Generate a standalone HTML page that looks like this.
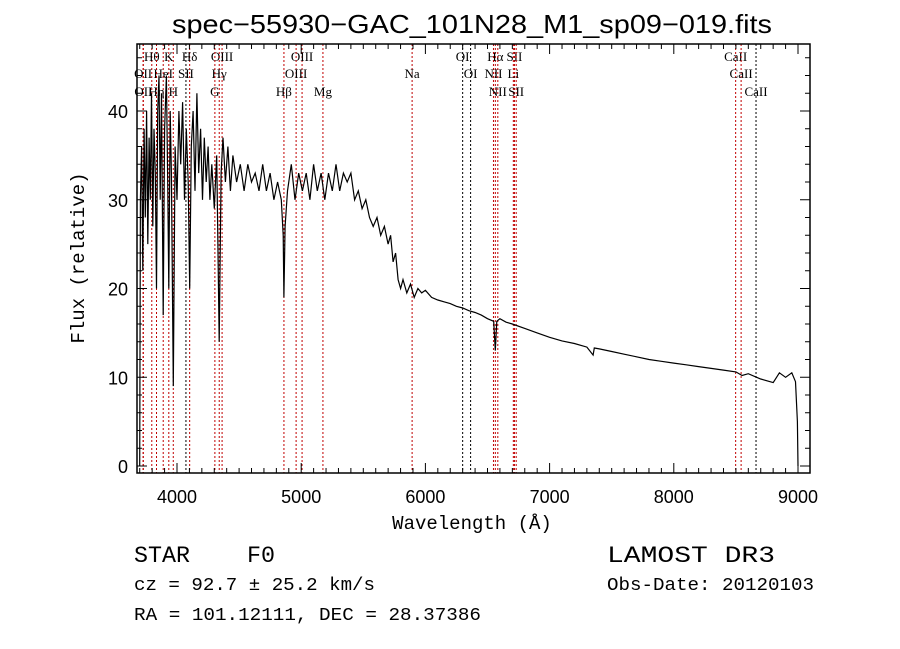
<!DOCTYPE html>
<html><head><meta charset="utf-8"><style>
html,body{margin:0;padding:0;background:#fff;}
svg{display:block;}
</style></head><body>
<svg id="chart" width="900" height="649" xmlns="http://www.w3.org/2000/svg" font-family="Liberation Sans, sans-serif">
<rect width="900" height="649" fill="#fff"/>
<text x="172" y="33" font-size="26" textLength="600" lengthAdjust="spacingAndGlyphs">spec−55930−GAC_101N28_M1_sp09−019.fits</text>
<g id="lines"></g>
<g id="axes"></g>
<path id="spec" fill="none" stroke="#000" stroke-width="1.2"/>
<text x="472" y="529" font-size="19" text-anchor="middle" font-family="Liberation Mono, monospace">Wavelength (Å)</text>
<text transform="translate(84,258) rotate(-90)" font-size="19" text-anchor="middle" font-family="Liberation Mono, monospace">Flux (relative)</text>
<g font-family="Liberation Mono, monospace">
<text x="134" y="562" font-size="23" textLength="56" lengthAdjust="spacingAndGlyphs">STAR</text>
<text x="247" y="562" font-size="23" textLength="28" lengthAdjust="spacingAndGlyphs">F0</text>
<text x="134" y="590" font-size="18" textLength="241" lengthAdjust="spacingAndGlyphs">cz = 92.7 ± 25.2 km/s</text>
<text x="134" y="620" font-size="18" textLength="347" lengthAdjust="spacingAndGlyphs">RA = 101.12111, DEC =  28.37386</text>
<text x="607" y="562" font-size="23" textLength="168" lengthAdjust="spacingAndGlyphs">LAMOST DR3</text>
<text x="607" y="590" font-size="18" textLength="207" lengthAdjust="spacingAndGlyphs">Obs-Date: 20120103</text>
</g>
</svg>
<script>
const wavelengths=[3700,3705,3715,3725,3735,3745,3755,3765,3775,3785,3795,3805,3815,3825,3835,3845,3855,3865,3875,3889,3900,3915,3925,3934,3945,3955,3970,3985,4000,4015,4030,4045,4060,4075,4090,4102,4115,4130,4145,4160,4175,4190,4205,4220,4235,4250,4265,4280,4300,4320,4340,4355,4370,4390,4410,4430,4450,4480,4510,4540,4570,4600,4630,4660,4690,4720,4750,4780,4810,4840,4855,4861,4870,4890,4920,4950,4980,5010,5040,5070,5100,5130,5160,5190,5220,5250,5280,5310,5340,5370,5400,5430,5460,5490,5520,5550,5580,5610,5640,5670,5700,5720,5740,5760,5780,5800,5820,5850,5880,5910,5940,5970,6000,6050,6100,6150,6200,6250,6300,6350,6400,6450,6500,6550,6563,6575,6600,6650,6700,6800,6900,7000,7100,7200,7300,7350,7360,7400,7500,7600,7700,7800,7900,8000,8100,8200,8300,8400,8500,8550,8600,8700,8800,8850,8900,8950,8980,8995,9000];
const fluxValues=[0,30,36,22,38,28,40,25,37,30,42,27,38,33,20,40,44,30,42,17,38,44,32,20,40,33,9,36,30,40,34,41,30,38,32,20,36,40,31,42,33,38,30,37,32,36,30,34,29,35,14,33,37,32,36,31,35,32,34,31,34,32,33,31,34,31,33,30,32,30,26,19,27,31,34,30,33,31,33,30,34,31,33,30,33,31,34,31,33,32,33,30,31,29,30,28,27,28,26,27,25,26,23,24,21,20,21,19.5,20.5,19,20,19.5,19.8,19,18.7,18.5,18.3,18,17.8,17.5,17.3,17,16.6,16.3,13,16.3,16.6,16.2,16,15.5,15,14.5,14.1,13.8,13.4,12.5,13.3,13.2,12.9,12.6,12.3,12,11.8,11.6,11.4,11.2,11,10.8,10.6,10.2,10.4,9.8,9.4,10.5,10,10.5,9.5,5,0];
const lineNames=["Hθ","K","Hδ","OIII","OIII","OI","Hα","SII","CaII","OII","HeI","SII","Hγ","OIII","Na","OI","NII","Li","CaII","OII","Hη","H","G","Hβ","Mg","NII","SII","CaII"];
const lineWaves=[3797,3934,4102,4363,5007,6300,6563,6717,8498,3727,3889,4072,4340,4959,5893,6364,6548,6708,8542,3729,3835,3970,4305,4861,5175,6583,6731,8662];
const lineRows=[0,0,0,0,0,0,0,0,0,1,1,1,1,1,1,1,1,1,1,2,2,2,2,2,2,2,2,2];
const lineBlack=[0,0,0,0,0,1,0,0,0,0,0,1,0,0,0,1,0,0,0,0,0,0,0,0,0,0,0,1];
const xTicks=[4000,5000,6000,7000,8000,9000];
const yTicks=[0,10,20,30,40];

const L=137,R=810,T=44,B=473;
const x=w=>177+(w-4000)*0.1242;
const y=f=>466-f*8.875;
const NS="http://www.w3.org/2000/svg";
function mk(tag,attrs,parent){const e=document.createElementNS(NS,tag);for(const k in attrs)e.setAttribute(k,attrs[k]);parent.appendChild(e);return e;}

const lg=document.getElementById('lines');
lineWaves.forEach((w,i)=>{
  const l=mk('line',{x1:x(w),x2:x(w),y1:T,y2:B,stroke:lineBlack[i]?'#000':'#c00000','stroke-width':1,'stroke-dasharray':'2,2'},lg);
  
  
  const t=mk('text',{x:x(w),y:[61,78,96][lineRows[i]],'font-size':13,'text-anchor':'middle','font-family':'Liberation Serif, serif'},lg);
  t.textContent=lineNames[i];
  
  
});

const ax=document.getElementById('axes');
const frame=mk('rect',{x:L,y:T,width:R-L,height:B-T,fill:'none',stroke:'#000','stroke-width':1.5},ax);


let d='';
for(let w=3700;w<=9000;w+=100){const len=(w%1000===0)?10:5;const px=x(w);d+=`M${px},${B}v${-len}M${px},${T}v${len}`;}
for(let f=0;f<=46;f+=2){const len=(f%10===0)?10:5;const py=y(f);d+=`M${L},${py}h${len}M${R},${py}h${-len}`;}
const tk=mk('path',{d:d,stroke:'#000','stroke-width':1,fill:'none'},ax);


xTicks.forEach(v=>{const t=mk('text',{x:x(v),y:503,'font-size':18,'text-anchor':'middle'},ax);t.textContent=v;
  
  });
yTicks.forEach(v=>{const t=mk('text',{x:128,y:y(v)+7,'font-size':18,'text-anchor':'end'},ax);t.textContent=v;
  
  });

document.getElementById('spec').setAttribute('d',wavelengths.map((w,i)=>(i?'L':'M')+x(w).toFixed(1)+','+y(fluxValues[i]).toFixed(1)).join(''));
</script>
</body></html>
